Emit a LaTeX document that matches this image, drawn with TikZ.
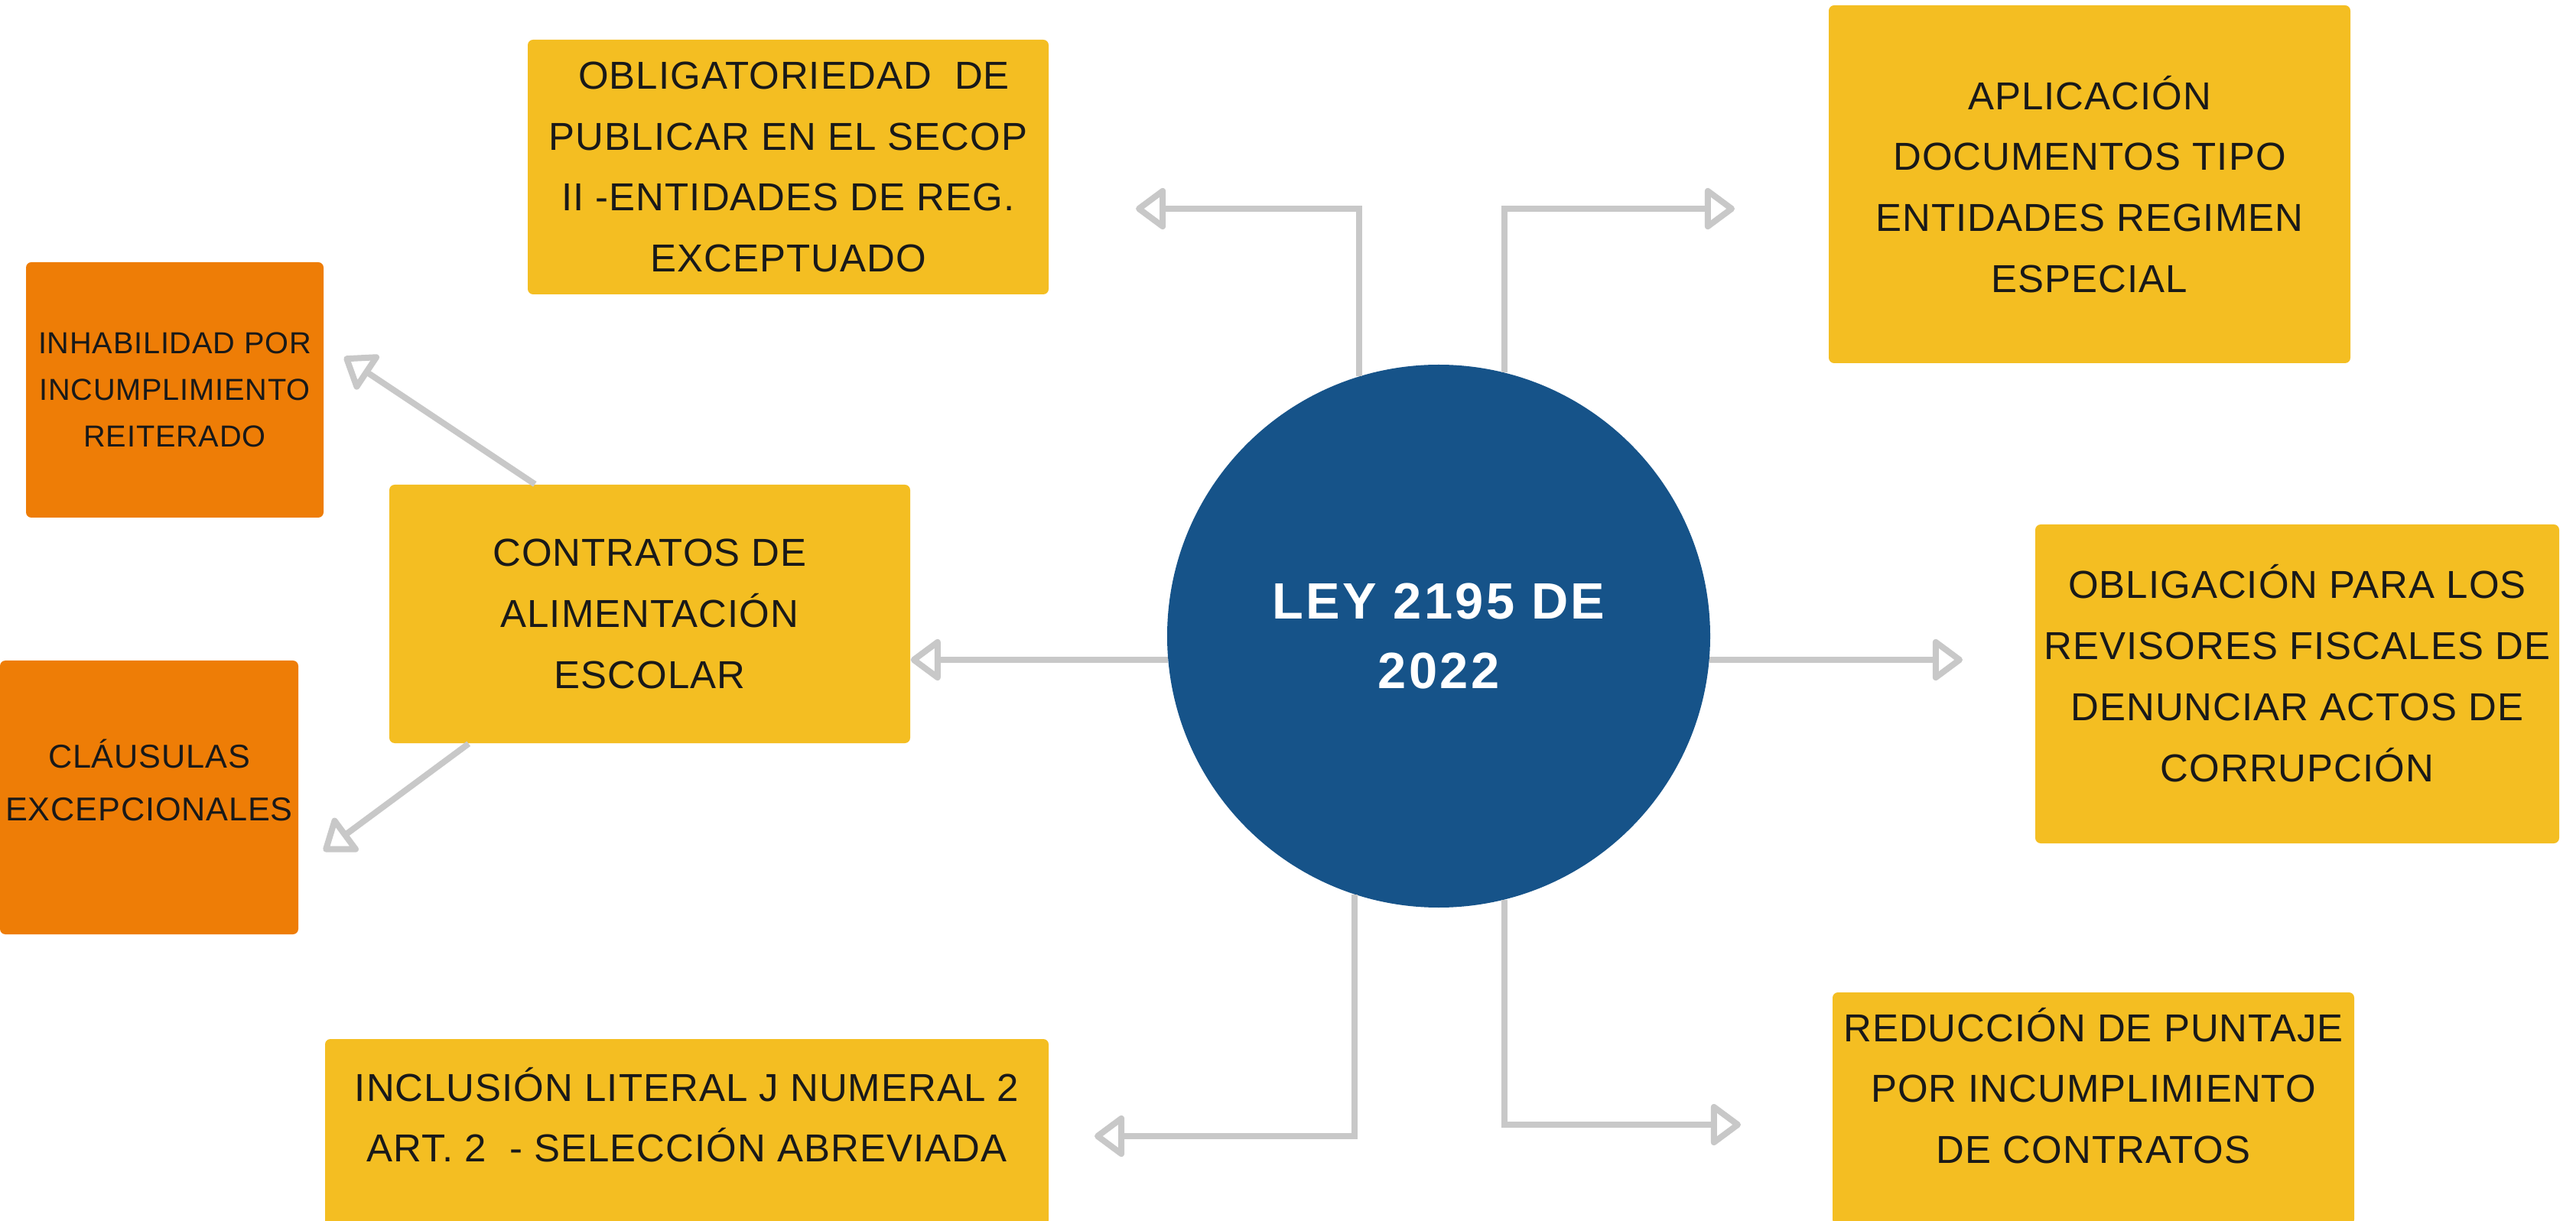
\documentclass[tikz,border=0pt]{standalone}
\usepackage{fontspec}
\setmainfont{Liberation Sans}[LetterSpace=2]
\newfontfamily\leyfont{Liberation Sans}[LetterSpace=5]
\usetikzlibrary{arrows.meta, positioning, calc}
\definecolor{amarillo}{HTML}{F4BE22}
\definecolor{naranja}{HTML}{EE7D06}
\definecolor{azul}{HTML}{165389}
\definecolor{gris}{HTML}{C8C8C8}
\tikzset{
    caja/.style={fill=amarillo, rounded corners=0.07cm, align=center, inner sep=0pt, text=black!90, font=\fontsize{14.5}{22.7}\selectfont},
    cajanar/.style={caja, fill=naranja},
    conector/.style={-{Triangle[open, length=0.42cm, width=0.6cm, round]}, gris, line width=0.08cm}
}
% texto con espacio extra abajo (lo sube dentro de la caja)
\newcommand{\textoalto}[2]{\begin{tabular}{@{}c@{}}#2\\[#1]\end{tabular}}

\begin{document}
\begin{tikzpicture}
    \useasboundingbox (0,0) rectangle (33.68,-15.97);
    % Centro
    \node[circle, fill=azul, minimum size=7.1cm, text=white, align=center, font=\leyfont\bfseries\fontsize{19}{25.8}\selectfont] (ley) at (18.81,-8.32) {LEY 2195 DE\\2022};
    % Cajas
    \node[caja, minimum width=6.81cm, minimum height=3.33cm] (oblig) at (10.305,-2.185) {\ OBLIGATORIEDAD\ \ DE\\PUBLICAR EN EL SECOP\\II -ENTIDADES DE REG.\\EXCEPTUADO};
    \node[caja, minimum width=6.82cm, minimum height=4.68cm] (aplic) at (27.32,-2.41) {APLICACIÓN\\DOCUMENTOS TIPO\\ENTIDADES REGIMEN\\ESPECIAL};
    \node[cajanar, minimum width=3.89cm, minimum height=3.34cm, font=\fontsize{11.3}{17.3}\selectfont] (inhab) at (2.285,-5.10) {INHABILIDAD POR\\INCUMPLIMIENTO\\REITERADO};
    \node[caja, minimum width=6.81cm, minimum height=3.38cm] (contr) at (8.495,-8.03) {CONTRATOS DE\\ALIMENTACIÓN\\ESCOLAR};
    \node[cajanar, minimum width=3.90cm, minimum height=3.58cm, font=\fontsize{12.3}{19.8}\selectfont] (claus) at (1.95,-10.43) {\textoalto{0.36cm}{CLÁUSULAS\\EXCEPCIONALES}};
    \node[caja, minimum width=6.85cm, minimum height=4.17cm] (revis) at (30.035,-8.945) {\textoalto{0.16cm}{OBLIGACIÓN PARA LOS\\REVISORES FISCALES DE\\DENUNCIAR ACTOS DE\\CORRUPCIÓN}};
    \node[caja, minimum width=9.46cm, minimum height=2.44cm] (inclu) at (8.98,-14.81) {\textoalto{0.34cm}{INCLUSIÓN LITERAL J NUMERAL 2\\ART. 2\ \ - SELECCIÓN ABREVIADA}};
    \node[caja, minimum width=6.82cm, minimum height=3.04cm] (reduc) at (27.37,-14.50) {\textoalto{0.48cm}{REDUCCIÓN DE PUNTAJE\\POR INCUMPLIMIENTO\\DE CONTRATOS}};
    % Puntas libres
    \coordinate (obligTip) at (14.85,-2.73);
    \coordinate (aplicTip) at (22.68,-2.73);
    \coordinate (revisTip) at (25.66,-8.635);
    \coordinate (incluTip) at (14.31,-14.86);
    \coordinate (reducTip) at (22.76,-14.71);
    \coordinate (inhabTip) at (4.50,-4.67);
    \coordinate (clausTip) at (4.23,-11.13);
    % Conectores
    \draw[conector] (ley.107.7) |- (obligTip);
    \draw[conector] (ley.76) |- (aplicTip);
    \draw[conector] (ley.185.1) -- (ley.185.1 -| contr.east);
    \draw[conector] (ley.-5.1) -- (ley.-5.1 -| revisTip);
    \draw[conector] (ley.252.3) |- (incluTip);
    \draw[conector] (ley.284) |- (reducTip);
    \draw[conector] ($(contr.north west)!0.28!(contr.north east)$) -- (inhabTip);
    \draw[conector] ($(contr.south west)!0.153!(contr.south east)$) -- (clausTip);
\end{tikzpicture}
\end{document}
